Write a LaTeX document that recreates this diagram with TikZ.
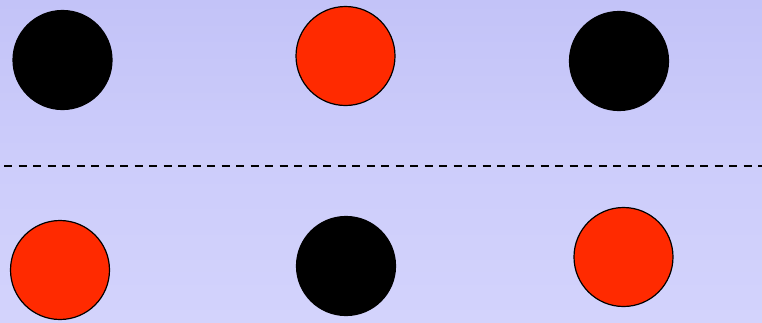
\documentclass[tikz,border=0pt]{standalone}
\begin{document}
\begin{tikzpicture}[x=1pt,y=-1pt,
  disc/.style={circle,draw=black,line width=1.2pt,minimum size=99pt,inner sep=0pt},
  reddisc/.style={disc,fill=redfill},
  blackdisc/.style={disc,fill=black},
  divider/.style={line width=1.5pt,dash pattern=on 8pt off 6.5pt}]
\definecolor{redfill}{HTML}{FF2A00}
\definecolor{bgtop}{HTML}{C3C3F8}
\definecolor{bgbot}{HTML}{D3D3FC}
\useasboundingbox (0,0) rectangle (762,322);
\shade[top color=bgtop,bottom color=bgbot,middle color=bgbot!60!bgtop] (0,0) rectangle (762,322);
\node[blackdisc] (t1) at (62.5,60) {};
\node[reddisc] (t2) at (345.5,56) {};
\node[blackdisc] (t3) at (619,61) {};
\node[reddisc] (b1) at (60,270) {};
\node[blackdisc] (b2) at (346,266) {};
\node[reddisc] (b3) at (623.5,257) {};
\coordinate (dl) at (4,166);
\coordinate (dr) at (762,166);
\draw[divider] (dl) -- (dr);
\end{tikzpicture}
\end{document}
